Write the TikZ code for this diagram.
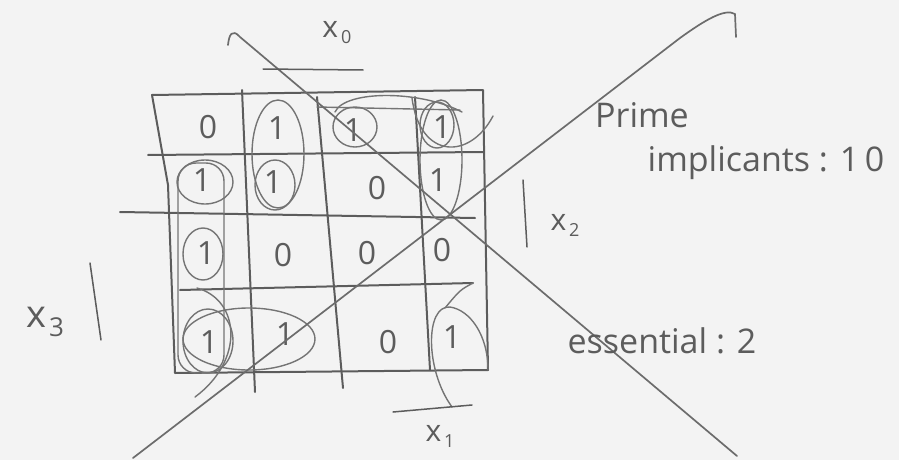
\documentclass[tikz,border=0pt]{standalone}
\usepackage{fontspec}
\setmainfont{Open Sans}
\definecolor{paper}{RGB}{243,243,243}
\definecolor{pencil}{RGB}{92,92,92}
\begin{document}
\begin{tikzpicture}[x=1pt,y=-1pt, line cap=round, line join=round,
  grid/.style={draw=pencil, line width=2pt},
  loopline/.style={draw=pencil!85, line width=1.4pt},
  diag/.style={draw=pencil!90, line width=1.7pt},
  bit/.style={text=pencil, font=\fontsize{32}{32}\selectfont, inner sep=0pt},
  lbl/.style={text=pencil, font=\fontsize{34}{36}\selectfont, inner sep=0pt},
  var/.style={text=pencil, font=\fontsize{30}{30}\selectfont, inner sep=0pt}]
\fill[paper] (0,0) rectangle (899,460);
\useasboundingbox (0,0) rectangle (899,460);
% grid
\draw[grid] (152,95) -- (483,90) -- (488,370) -- (175,373) -- (168,185) -- cycle;
\draw[grid] (148,155) -- (483,152);
\draw[grid] (120,212) -- (475,218);
\draw[grid] (180,290) -- (473,283);
\draw[grid] (242,90) -- (255,392);
\draw[grid] (317,97) -- (343,388);
\draw[grid] (415,97) -- (430,370);
% cells
\node[bit] (c11) at (208,127) {0};
\node[bit] (c12) at (277,128) {1};
\node[bit] (c13) at (353,130) {1};
\node[bit] (c14) at (442,127) {1};
\node[bit] (c21) at (202,180) {1};
\node[bit] (c22) at (273,182) {1};
\node[bit] (c23) at (377,188) {0};
\node[bit] (c24) at (438,180) {1};
\node[bit] (c31) at (206,253) {1};
\node[bit] (c32) at (283,255) {0};
\node[bit] (c33) at (367,253) {0};
\node[bit] (c34) at (442,250) {0};
\node[bit] (c41) at (209,342) {1};
\node[bit] (c42) at (285,334) {1};
\node[bit] (c43) at (388,342) {0};
\node[bit] (c44) at (452,337) {1};
% loops
\draw[loopline] (278,154) ellipse (26 and 54);
\draw[loopline] (275,185) ellipse (20 and 25);
\draw[loopline] (355,127) ellipse (22 and 20);
\draw[loopline] (437,125) ellipse (17 and 23);
\draw[loopline] (441,160) ellipse (21 and 60);
\draw[loopline] (205,182) ellipse (28 and 22);
\draw[loopline, rounded corners=18] (178,163) rectangle (224,373);
\draw[loopline] (203,254) ellipse (20 and 26);
\draw[loopline] (208,341) ellipse (25 and 32);
\draw[loopline] (249,339) ellipse (66 and 31);
\draw[loopline] (335,112) .. controls (345,90) and (420,90) .. (462,112);
\draw[loopline] (317,107) -- (460,110);
\draw[loopline] (412,98) .. controls (420,160) and (470,160) .. (493,116);
\draw[loopline] (197,288) .. controls (240,300) and (245,360) .. (195,397);
\draw[loopline] (452,407) .. controls (425,370) and (425,305) .. (450,307)
  .. controls (470,310) and (488,335) .. (488,370);
\draw[loopline] (473,283) .. controls (460,290) .. (445,308);
% crossing lines
\draw[diag] (228,45) .. controls (229,35) and (232,28) .. (240,37) -- (737,456);
\draw[diag] (133,458) -- (680,38) .. controls (705,20) and (725,8) .. (735,14) -- (736,37);
% variable labels
\draw[grid, line width=1.5pt] (263,69) -- (363,70);
\node[var] (x0) at (337,33) {x\kern3pt\raisebox{-6pt}{\fontsize{18}{18}\selectfont 0}};
\draw[grid, line width=1.5pt] (393,412) -- (472,405);
\node[var] (x1) at (440,436) {x\kern3pt\raisebox{-6pt}{\fontsize{18}{18}\selectfont 1}};
\draw[grid, line width=1.5pt] (523,180) -- (527,247);
\node[var] (x2) at (565,225) {x\kern3pt\raisebox{-6pt}{\fontsize{18}{18}\selectfont 2}};
\draw[grid, line width=1.5pt] (90,263) -- (101,340);
\node[var, font=\fontsize{38}{38}\selectfont] (x3) at (45,322) {x\kern3pt\raisebox{-9pt}{\fontsize{26}{26}\selectfont 3}};
% notes
\node[lbl] (prime) at (642,115) {Prime};
\node[lbl] (impl) at (766,163) {implicants : 1\,0};
\node[lbl] (ess) at (662,341) {essential : 2};
\end{tikzpicture}
\end{document}
